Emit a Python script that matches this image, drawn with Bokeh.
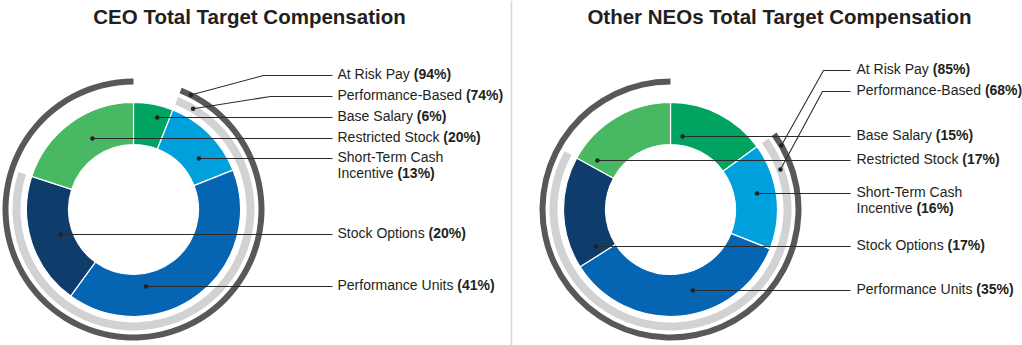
import math
from bokeh.plotting import figure
from bokeh.models import Range1d
from bokeh.core.properties import value
from bokeh.embed import file_html
from bokeh.resources import INLINE

W, H = 1022, 345

# ---------------- data ----------------
categories = ["Base Salary", "Short-Term Cash Incentive", "Performance Units",
              "Stock Options", "Restricted Stock"]
colors = ["#00a460", "#00a0dc", "#0565b2", "#0e3c6b", "#49b863"]
ceo_values = [6, 13, 41, 20, 20]
neo_values = [15, 16, 35, 17, 17]
ceo_at_risk = 94
ceo_perf = 74
neo_at_risk = 85
neo_perf = 68
titles = ["CEO Total Target Compensation", "Other NEOs Total Target Compensation"]

# ---------------- layout ----------------
FONT = value("Liberation Sans")
TXT = "#231f20"
LEAD = "#2b2b2b"
R_IN, R_OUT = 65, 107
LIGHT_IN, LIGHT_OUT = 113, 121
DARK_IN, DARK_OUT = 125, 131
TEXT_SHIFT = 2   # baseline offset (data units) relative to leader line

panels = [
    dict(values=ceo_values, at_risk=ceo_at_risk, perf=ceo_perf, title=titles[0],
         cx=133, cy=209, title_x=249, label_x=337, line_end=332,
         slice_y=[117, 158, 286, 234, 138], dot_r=[95, 83, 78, 77, 82],
         risk_y=75, perf_y=96, risk_elbow=263, perf_elbow=270,
         risk_off=5, perf_off=9),
    dict(values=neo_values, at_risk=neo_at_risk, perf=neo_perf, title=titles[1],
         cx=670, cy=209, title_x=779, label_x=856, line_end=850,
         slice_y=[136, 193, 290, 246, 160], dot_r=[74, 88, 84, 83, 88],
         risk_y=70, perf_y=91, risk_elbow=823, perf_elbow=822,
         risk_off=6, perf_off=16),
]

# Helvetica / Arial advance widths (1/1000 em)
HELV = {' ': 278, '(': 333, ')': 333, '%': 889, '-': 333,
        'A': 667, 'B': 667, 'C': 722, 'D': 722, 'E': 667, 'F': 611, 'G': 778,
        'H': 722, 'I': 278, 'J': 500, 'K': 667, 'L': 556, 'M': 833, 'N': 722,
        'O': 778, 'P': 667, 'Q': 778, 'R': 722, 'S': 667, 'T': 611, 'U': 722,
        'V': 667, 'W': 944, 'X': 667, 'Y': 667, 'Z': 611,
        'a': 556, 'b': 556, 'c': 500, 'd': 556, 'e': 556, 'f': 278, 'g': 556,
        'h': 556, 'i': 222, 'j': 222, 'k': 500, 'l': 222, 'm': 833, 'n': 556,
        'o': 556, 'p': 556, 'q': 556, 'r': 333, 's': 500, 't': 278, 'u': 556,
        'v': 500, 'w': 722, 'x': 500, 'y': 500, 'z': 500}
for d in "0123456789":
    HELV[d] = 556


def tw(s, size):
    return sum(HELV.get(c, 556) for c in s) * size / 1000.0


def Y(py):
    return H - py


def ang(theta_deg):
    # clockwise-from-top degrees -> bokeh math angle (radians)
    return math.radians(90 - theta_deg)


p = figure(width=W, height=H, x_range=Range1d(0, W), y_range=Range1d(0, H),
           x_axis_type=None, y_axis_type=None, toolbar_location=None,
           output_backend="svg", min_border=0, outline_line_color=None,
           background_fill_color="white", border_fill_color="white")
p.grid.visible = False

# divider
p.segment(x0=[W / 2], y0=[0], x1=[W / 2], y1=[H], line_color="#d6d6d6", line_width=1.5)

SIZE = 14
norm_x, norm_y, norm_t = [], [], []
bold_x, bold_y, bold_t = [], [], []
lead_xs, lead_ys = [], []
dot_x, dot_y = [], []


def add_label(x, py, name, pct):
    norm_x.append(x); norm_y.append(Y(py) + TEXT_SHIFT); norm_t.append(name)
    bold_x.append(x + tw(name, SIZE)); bold_y.append(Y(py) + TEXT_SHIFT); bold_t.append(pct)


for pn in panels:
    cx, cy = pn["cx"], Y(pn["cy"])
    vals = pn["values"]
    cum = [0]
    for v in vals:
        cum.append(cum[-1] + v)
    th0 = [c * 3.6 for c in cum[:-1]]
    th1 = [c * 3.6 for c in cum[1:]]
    p.annular_wedge(x=cx, y=cy, inner_radius=R_IN, outer_radius=R_OUT,
                    start_angle=[ang(b) for b in th1], end_angle=[ang(a) for a in th0],
                    fill_color=colors, line_color="white", line_width=1.2)

    base_end = (100 - pn["at_risk"]) * 3.6
    perf_end = base_end + pn["perf"] * 3.6
    p.annular_wedge(x=cx, y=cy, inner_radius=LIGHT_IN, outer_radius=LIGHT_OUT,
                    start_angle=ang(perf_end), end_angle=ang(base_end),
                    fill_color="#d1d2d4", line_color=None)
    p.annular_wedge(x=cx, y=cy, inner_radius=DARK_IN, outer_radius=DARK_OUT,
                    start_angle=ang(360), end_angle=ang(base_end),
                    fill_color="#58585a", line_color=None)

    # title
    p.text(x=[pn["title_x"]], y=[Y(16)], text=[pn["title"]], text_font=FONT,
           text_font_size="20.5px", text_font_style="bold", text_color=TXT,
           text_align="center", text_baseline="alphabetic")

    # arc callouts
    for val, name, py, elbow, r, off in [
        (pn["at_risk"], "At Risk Pay ", pn["risk_y"], pn["risk_elbow"],
         (DARK_IN + DARK_OUT) / 2, pn["risk_off"]),
        (pn["perf"], "Performance-Based ", pn["perf_y"], pn["perf_elbow"],
         (LIGHT_IN + LIGHT_OUT) / 2, pn["perf_off"])]:
        th = base_end + off
        dx = cx + r * math.sin(math.radians(th))
        dy = cy + r * math.cos(math.radians(th))
        dot_x.append(dx); dot_y.append(dy)
        lead_xs.append([dx, elbow, pn["line_end"]])
        lead_ys.append([dy, Y(py), Y(py)])
        add_label(pn["label_x"], py, name, "(%d%%)" % val)

    # slice callouts
    for i, cat in enumerate(categories):
        mid = (th0[i] + th1[i]) / 2
        side = 1 if math.sin(math.radians(mid)) >= 0 else -1
        py = pn["slice_y"][i]
        r = pn["dot_r"][i]
        ddy = Y(py) - cy
        ddx = side * math.sqrt(max(r * r - ddy * ddy, 0))
        dx = cx + ddx
        dot_x.append(dx); dot_y.append(Y(py))
        lead_xs.append([dx, pn["line_end"]])
        lead_ys.append([Y(py), Y(py)])
        pct = "(%d%%)" % vals[i]
        if cat == "Short-Term Cash Incentive":
            norm_x.append(pn["label_x"]); norm_y.append(Y(py) + TEXT_SHIFT); norm_t.append("Short-Term Cash")
            add_label(pn["label_x"], py + 16, "Incentive ", pct)
        else:
            add_label(pn["label_x"], py, cat + " ", pct)

p.multi_line(xs=lead_xs, ys=lead_ys, line_color=LEAD, line_width=1.1)
p.scatter(x=dot_x, y=dot_y, size=4.5, fill_color="#222222", line_color=None)

p.text(x=norm_x, y=norm_y, text=norm_t, text_font=FONT, text_font_size="%dpx" % SIZE,
       text_color=TXT, text_align="left", text_baseline="alphabetic")
p.text(x=bold_x, y=bold_y, text=bold_t, text_font=FONT, text_font_size="%dpx" % SIZE,
       text_font_style="bold", text_color=TXT, text_align="left", text_baseline="alphabetic")

open("out.html", "w").write(file_html(p, INLINE))
